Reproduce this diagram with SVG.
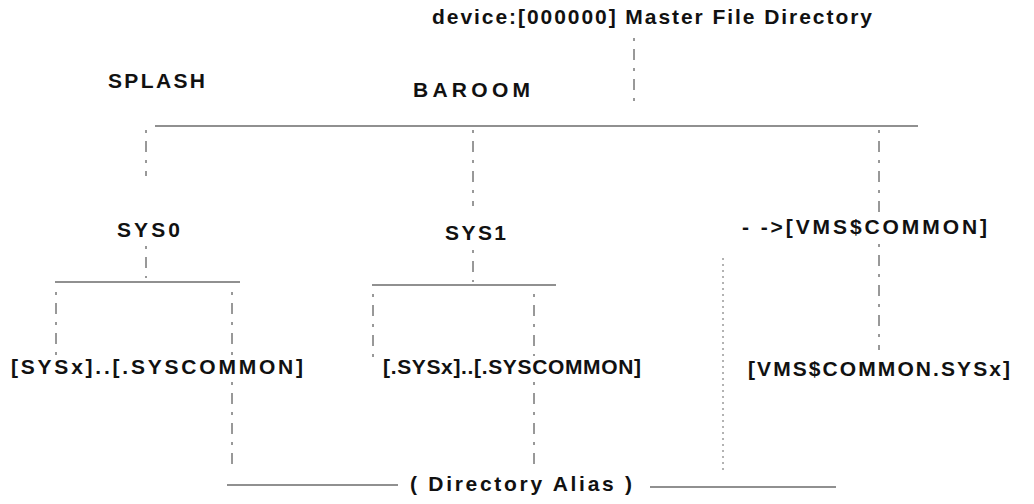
<svg xmlns="http://www.w3.org/2000/svg" width="1034" height="504" viewBox="0 0 1034 504">
<style>
text{font-family:"Liberation Sans",Arial,sans-serif;font-weight:bold;font-size:21px;fill:#111;}
.h{stroke:#222;stroke-width:1.2;fill:none;}
.v{stroke:#333;stroke-width:1;fill:none;stroke-dasharray:3 8 11 8;}
.d{stroke:#666;stroke-width:1;fill:none;stroke-dasharray:2 4;}
</style>
<rect width="1034" height="504" fill="#fff"/>
<g id="connectors">
<line class="v" x1="634" y1="38" x2="634" y2="102"/>
<line class="h" x1="155" y1="126" x2="918" y2="126"/>
<line class="v" x1="146" y1="130" x2="146" y2="176"/>
<line class="v" x1="146" y1="246" x2="146" y2="278"/>
<line class="v" x1="473" y1="130" x2="473" y2="206"/>
<line class="v" x1="473" y1="250" x2="473" y2="282"/>
<line class="v" x1="879" y1="130" x2="879" y2="212"/>
<line class="v" x1="879" y1="244" x2="879" y2="350"/>
<line class="h" x1="55" y1="282" x2="240" y2="282"/>
<line class="h" x1="372" y1="285" x2="556" y2="285"/>
<line class="v" x1="56" y1="292" x2="56" y2="358"/>
<line class="v" x1="232" y1="292" x2="232" y2="356"/>
<line class="v" x1="232" y1="382" x2="232" y2="466"/>
<line class="v" x1="373" y1="294" x2="373" y2="358"/>
<line class="v" x1="534" y1="294" x2="534" y2="356"/>
<line class="v" x1="534" y1="382" x2="534" y2="466"/>
<line class="d" x1="723" y1="258" x2="723" y2="470"/>
<line class="h" x1="227" y1="485" x2="398" y2="485"/>
<line class="h" x1="650" y1="487" x2="836" y2="487"/>
</g>
<g id="mfd"><text x="432" y="24" textLength="440" lengthAdjust="spacing">device:[000000] Master File Directory</text></g>
<g id="splash"><text x="108" y="88" textLength="97" lengthAdjust="spacing">SPLASH</text></g>
<g id="baroom"><text x="413" y="97" textLength="117" lengthAdjust="spacing">BAROOM</text></g>
<g id="sys0"><text x="117" y="237" textLength="63" lengthAdjust="spacing">SYS0</text></g>
<g id="sys1"><text x="445" y="240" textLength="61" lengthAdjust="spacing">SYS1</text></g>
<g id="vmscommon"><text x="742" y="234" textLength="245" lengthAdjust="spacing">- -&gt;[VMS$COMMON]</text></g>
<g id="sys0-dirs"><text x="11" y="374" textLength="292" lengthAdjust="spacing">[SYSx]..[.SYSCOMMON]</text></g>
<g id="sys1-dirs"><text x="383" y="374" textLength="258" lengthAdjust="spacing">[.SYSx]..[.SYSCOMMON]</text></g>
<g id="vmscommon-sysx"><text x="748" y="376" textLength="262" lengthAdjust="spacing">[VMS$COMMON.SYSx]</text></g>
<g id="alias"><text x="410" y="491" textLength="222" lengthAdjust="spacing">( Directory Alias )</text></g>
</svg>
